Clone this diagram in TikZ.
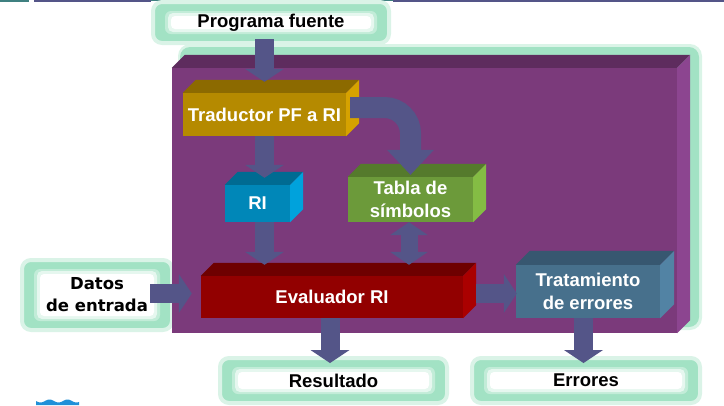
\documentclass[tikz,border=0pt]{standalone}
\usepackage{fontspec}
\setmainfont{Liberation Sans}
\newfontfamily\datosfont{DejaVu Sans}
\usepackage{xcolor}
\definecolor{glowgreen}{HTML}{A2E2C4}
\definecolor{arrowblue}{HTML}{545588}
\definecolor{stripteal}{HTML}{3F8080}
\definecolor{waveblue}{HTML}{2090D8}
\definecolor{corefront}{HTML}{7B3A7B}
\definecolor{coretop}{HTML}{5E2C5E}
\definecolor{coreside}{HTML}{8C4590}
\definecolor{tradfront}{HTML}{B58A00}
\definecolor{tradtop}{HTML}{8C6A00}
\definecolor{tradside}{HTML}{D6A200}
\definecolor{rifront}{HTML}{0087B8}
\definecolor{ritop}{HTML}{006B92}
\definecolor{riside}{HTML}{00A2DC}
\definecolor{tablafront}{HTML}{6C9A3A}
\definecolor{tablatop}{HTML}{557A2C}
\definecolor{tablaside}{HTML}{84BC44}
\definecolor{evalfront}{HTML}{920000}
\definecolor{evaltop}{HTML}{6E0000}
\definecolor{evalside}{HTML}{AA0000}
\definecolor{errfront}{HTML}{47708C}
\definecolor{errtop}{HTML}{375770}
\definecolor{errside}{HTML}{5283A4}
\usepackage{tikz}
\usetikzlibrary{arrows.meta, calc}

\newcommand{\boxfont}{\bfseries\fontsize{18.5}{23}\selectfont}
% top and right faces of a prism box
\newcommand{\prismfaces}[4]{%
  \fill[#2] (#1.north west) -- ([shift={(#4,-#4)}]#1.north west)
    -- ([shift={(#4,-#4)}]#1.north east) -- (#1.north east) -- cycle;
  \fill[#3] (#1.north east) -- ([shift={(#4,-#4)}]#1.north east)
    -- ([shift={(#4,-#4)}]#1.south east) -- (#1.south east) -- cycle;}

\tikzset{
  prism/.style={inner sep=0pt, text=white, font=\boxfont, align=center},
  glowbox/.style={fill=glowgreen, draw=glowgreen!40, line width=4pt,
    rounded corners=9pt, inner sep=0pt, font=\boxfont, align=center,
    path picture={
      \fill[white, opacity=0.35, rounded corners=6pt]
        ([shift={(12pt,-9pt)}]path picture bounding box.north west) rectangle
        ([shift={(-12pt,9pt)}]path picture bounding box.south east);
      \fill[white, opacity=0.6, rounded corners=5pt]
        ([shift={(15pt,-11pt)}]path picture bounding box.north west) rectangle
        ([shift={(-15pt,11pt)}]path picture bounding box.south east);
      \fill[white, rounded corners=4pt]
        ([shift={(18pt,-14pt)}]path picture bounding box.north west) rectangle
        ([shift={(-18pt,14pt)}]path picture bounding box.south east);}},
  fatarrow/.style={draw=arrowblue, line width=19pt,
    -{Triangle[width=39pt,length=13pt,line width=0pt]}},
}

\begin{document}
\begin{tikzpicture}[x=1pt, y=-1pt]
  \useasboundingbox (0,0) rectangle (724,405);
  % slide strip at the top
  \fill[stripteal] (0,0) rectangle (29,2);
  \fill[arrowblue] (34,0) rectangle (151,2);
  \fill[stripteal] (151,0) rectangle (393,0.8);
  \fill[arrowblue] (393,0) rectangle (724,2);
  % wave in the corner
  \fill[waveblue] plot[domain=36:79, samples=40] (\x,{401+1.5*sin(\x*20)}) -- (79,405) -- (36,405) -- cycle;

  % outer boxes
  \node[glowbox, minimum width=236, minimum height=41] (src) at (271,22.5) {Programa fuente};
  \node[glowbox, minimum width=150, minimum height=70, font=\datosfont\bfseries\fontsize{16.5}{22}\selectfont] (datos) at (97,295) {Datos\\de entrada};
  \node[glowbox, minimum width=227, minimum height=45] (res) at (333.5,380.5) {Resultado};
  \node[glowbox, minimum width=228, minimum height=45] (errs) at (586,380.5) {Errores};

  % interpreter block
  \fill[glowgreen!40, rounded corners=12] (178,44) rectangle (702,330);
  \fill[glowgreen, rounded corners=10] (180,47) rectangle (699,327);
  \node[fill=corefront, minimum width=505, minimum height=265] (core) at (424.5,200.5) {};
  \prismfaces{core}{coretop}{coreside}{13}

  \node[prism, fill=tradfront, minimum width=163, minimum height=43] (trad) at (264.5,114.5) {Traductor PF a RI};
  \prismfaces{trad}{tradtop}{tradside}{13}
  \node[prism, fill=rifront, minimum width=65, minimum height=37] (ri) at (257.5,203.5) {RI};
  \prismfaces{ri}{ritop}{riside}{13}
  \node[prism, fill=tablafront, minimum width=125, minimum height=45] (tabla) at (410.5,199.5) {Tabla de\\símbolos};
  \prismfaces{tabla}{tablatop}{tablaside}{13}
  \node[prism, fill=evalfront, minimum width=262, minimum height=42] (eval) at (332,297) {Evaluador RI};
  \prismfaces{eval}{evaltop}{evalside}{13}
  \node[prism, fill=errfront, minimum width=144, minimum height=53] (errtrat) at (588,291.5) {Tratamiento\\de errores};
  \prismfaces{errtrat}{errtop}{errside}{14}

  % arrows
  \draw[fatarrow] ($(trad.north |- src.south)+(0,-6)$) -- ($(trad.north)+(0,-11)$);
  \draw[fatarrow] (trad.south) -- ($(trad.south |- ri.north)+(0,-7)$);
  \draw[fatarrow] (trad.south |- ri.south) -- ($(trad.south |- eval.north)+(0,-11)$);
  \draw[draw=arrowblue, line width=21pt, rounded corners=26,
    -{Triangle[width=47pt,length=25pt,line width=0pt]}]
    ($(trad.east)+(4,-7)$) -| ($(tabla.north)+(0,-2)$);
  \draw[draw=arrowblue, line width=17pt,
    {Triangle[width=38pt,length=13pt,line width=0pt]}-{Triangle[width=38pt,length=13pt,line width=0pt]}]
    ($(tabla.south)+(-1.5,0)$) -- ($(tabla.south |- eval.north)+(-1.5,-11)$);
  \draw[fatarrow] ($(eval.west -| datos.east)+(-24,-3.5)$) -- ($(eval.west)+(-9,-3.5)$);
  \draw[fatarrow] ($(eval.east)+(13,-3.5)$) -- ($(errtrat.west |- eval.east)+(1,-3.5)$);
  \draw[fatarrow] ($(eval.south)+(-2,0)$) -- ($(eval.south |- res.north)+(-2,7)$);
  \draw[fatarrow] ($(errtrat.south)+(-4.5,0)$) -- ($(errtrat.south |- errs.north)+(-4.5,7)$);
\end{tikzpicture}
\end{document}
